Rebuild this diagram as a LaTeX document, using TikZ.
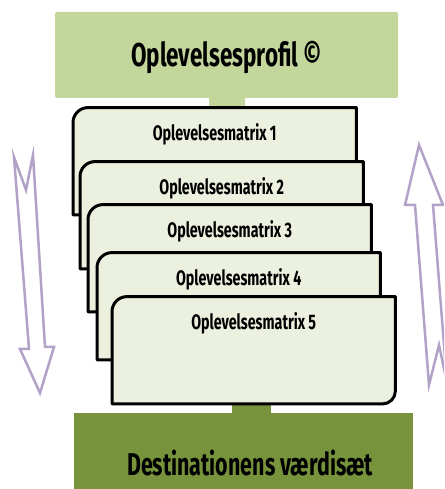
\documentclass[tikz,border=0pt]{standalone}
\usepackage{fontspec}
\setmainfont{Fira Sans}[FakeStretch=0.68]
\definecolor{profilgreen}{HTML}{C3D69B}
\definecolor{matrixfill}{HTML}{EBF1DE}
\definecolor{valuegreen}{HTML}{77933C}
\definecolor{arrowlilac}{HTML}{B3A2C7}
\tikzset{
  greenbox/.style={inner sep=0pt, minimum width=#1, font=\bfseries\fontsize{33}{36}\selectfont},
  matrixbox/.style={anchor=south west, inner sep=0pt, minimum width=283pt, minimum height=107pt},
  matrixline/.style={draw=black, fill=matrixfill, line width=3pt, line join=round},
  matrixlabel/.style={inner sep=0pt, font=\bfseries\fontsize{21}{24}\selectfont},
  hollowarrow/.style={draw=arrowlilac, fill=white, line width=2.5pt, line join=miter}
}
\newcommand\matrixedge[1]{%
  \path[matrixline] (#1.south west) -- ([yshift=-15pt]#1.north west)
    arc[start angle=180, end angle=90, radius=15pt] -- (#1.north east)
    -- ([yshift=13pt]#1.south east)
    arc[start angle=0, end angle=-90, radius=13pt] -- cycle;}
\begin{document}
\begin{tikzpicture}[x=1pt, y=1pt]
  \useasboundingbox (0,0) rectangle (444,489);
  \clip (0,0) rectangle (444,489);
  % top and bottom boxes
  \node[greenbox=343pt, minimum height=86pt, fill=profilgreen, rounded corners=1.5pt]
    (profil) at (226.5,434) {};
  \node[greenbox=0pt] (profiltext) at (226.5,431) {Oplevelsesprofil ©};
  \node[greenbox=339pt, minimum height=100pt, fill=valuegreen] (vaerdi) at (243.5,26) {};
  \node[greenbox=0pt, font=\bfseries\fontsize{31.5}{34}\selectfont] (vaerditext) at (250,26)
    {Destinationens værdisæt};
  % matrices
  \foreach \i/\x/\y in {1/73/274, 2/80/220, 3/88/177, 4/97/129, 5/112/85}
    \node[matrixbox] (m\i) at (\x,\y) {};
  \fill[profilgreen] ([xshift=-17.5pt]profil.south) rectangle ([xshift=18.5pt]profil.south |- m1.north);
  \fill[valuegreen] ([xshift=-21.5pt]m5.south) rectangle ([xshift=17.5pt]m5.south |- vaerdi.north);
  \foreach \i in {1,...,5}{
    \matrixedge{m\i}
    \node[matrixlabel] (l\i) at ([yshift=-27pt]m\i.north) {Oplevelsesmatrix \i};
  }
  % arrows
  \path[hollowarrow] (14,332) -- (26,299) -- (33,334) -- (45,142) -- (54,142)
    -- (40,96) -- (20,140) -- (29,140) -- cycle;
  \path[hollowarrow] (419,344) -- (443,284) -- (433,284) -- (447,106) -- (439,144)
    -- (429,104) -- (415,284) -- (405,284) -- cycle;
\end{tikzpicture}
\end{document}
